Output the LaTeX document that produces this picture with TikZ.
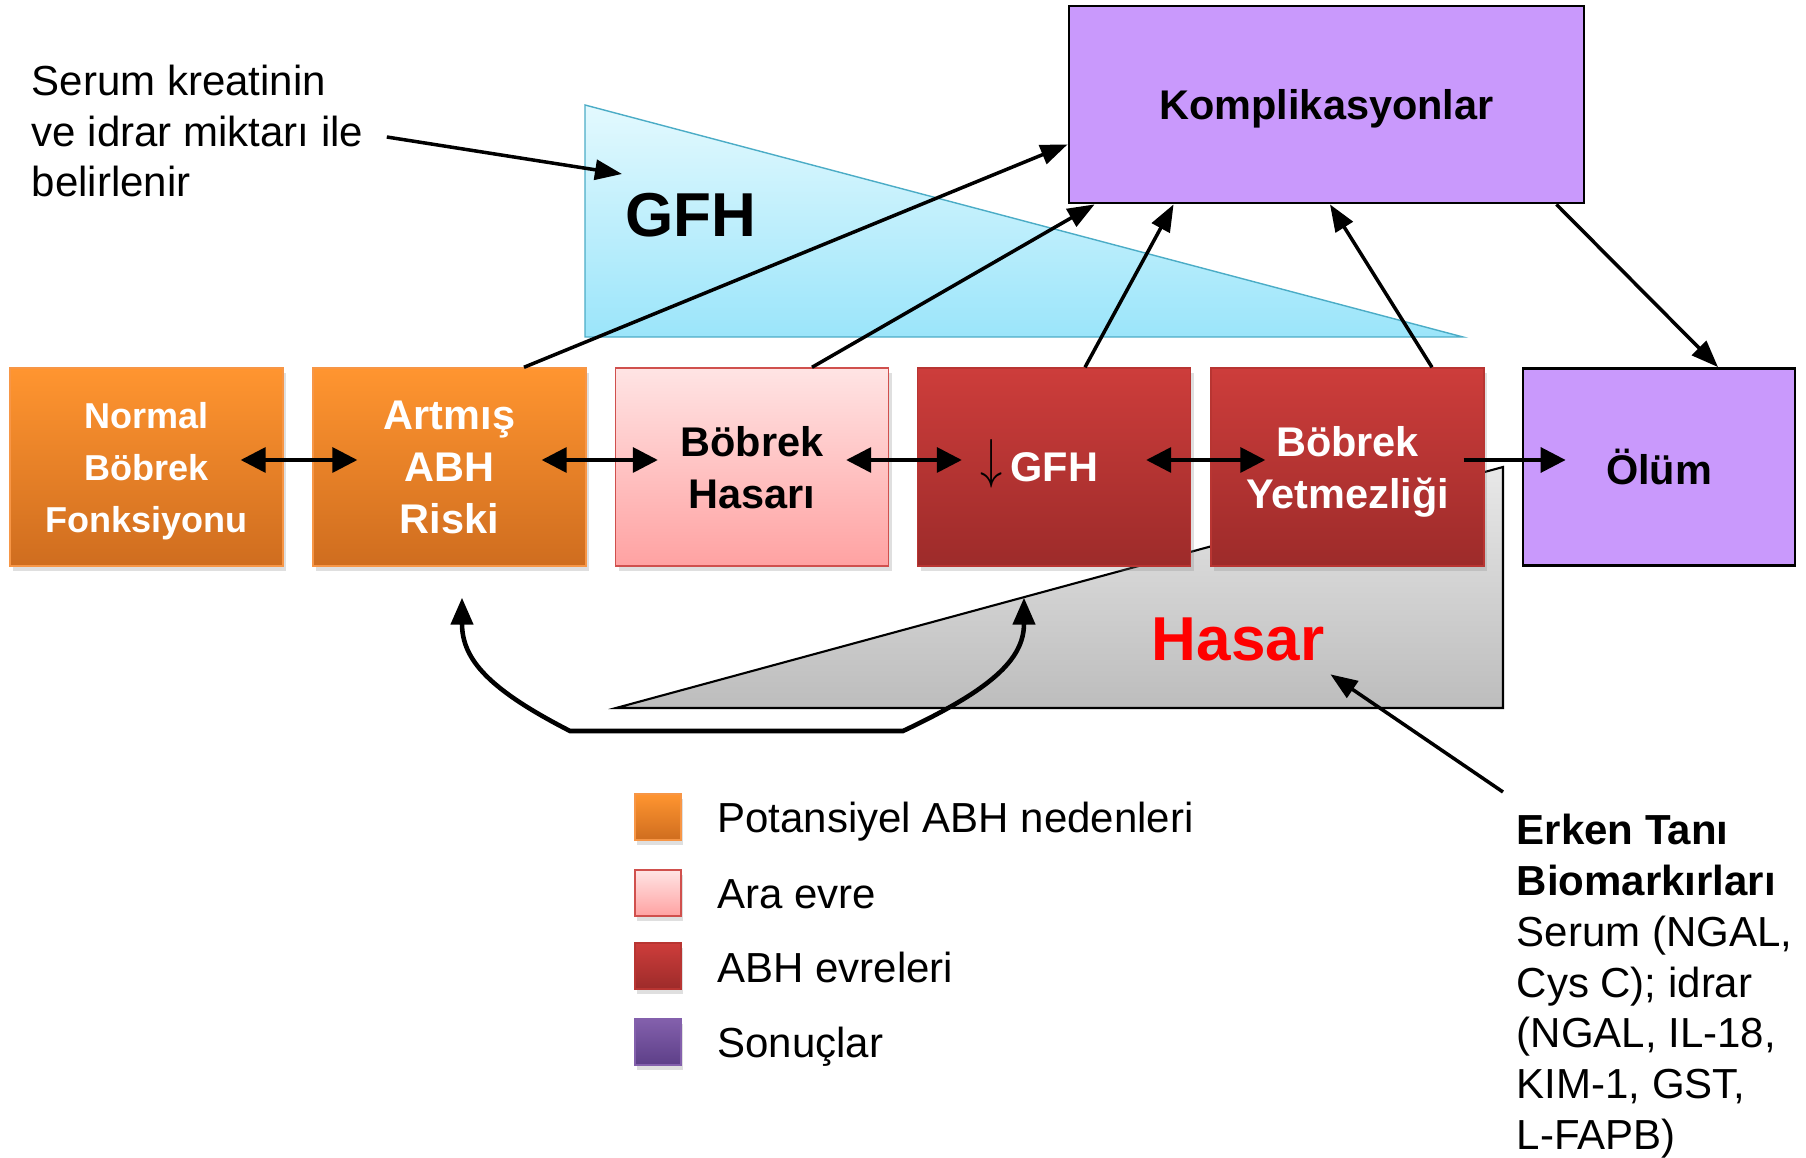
\documentclass[tikz,border=0pt]{standalone}
\usepackage{fontspec}
\setmainfont{Liberation Sans}
\usepackage{tikz}
\usetikzlibrary{arrows.meta}
\usetikzlibrary{shadows}

\definecolor{orTop}{HTML}{FF9530}
\definecolor{orBot}{HTML}{CF6D1F}
\definecolor{orLine}{HTML}{F79646}
\definecolor{pkTop}{HTML}{FFE4E4}
\definecolor{pkBot}{HTML}{FFA2A2}
\definecolor{pkLine}{HTML}{D0504D}
\definecolor{rdTop}{HTML}{CD3D3B}
\definecolor{rdBot}{HTML}{9D2B2A}
\definecolor{rdLine}{HTML}{B83532}
\definecolor{lilac}{HTML}{C999FC}
\definecolor{puTop}{HTML}{8360AC}
\definecolor{puBot}{HTML}{5D3F88}
\definecolor{gfhTop}{HTML}{E3F9FE}
\definecolor{gfhBot}{HTML}{9BE5FA}
\definecolor{gfhLine}{HTML}{4BACC6}

\newcommand{\stagefont}{\fontsize{11.8}{14.8}\selectfont\bfseries}
\newcommand{\stagesmallfont}{\fontsize{10.25}{14.8}\selectfont\bfseries}
\newcommand{\notefont}{\fontsize{11.95}{14.5}\selectfont}
\newcommand{\tagfont}{\fontsize{17.65}{20}\selectfont\bfseries}
\newcommand{\gfhdown}{\smash{\raisebox{0.1em}{\scalebox{1.05}[1.3]{\textcolor{black}{$\downarrow$}}}}}

\begin{document}
\begin{tikzpicture}
        \tikzset{stage/.style = {rectangle, minimum width=2.73cm, minimum height=1.98cm, inner sep=0pt, align=center, font=\stagefont,
                text depth=0pt, drop shadow={opacity=0.25, shadow xshift=0.03cm, shadow yshift=-0.05cm}}}
        \tikzset{cause/.style = {top color=orTop, bottom color=orBot, draw=orLine, text=white}}
        \tikzset{middle/.style = {top color=pkTop, bottom color=pkBot, draw=pkLine}}
        \tikzset{injury/.style = {top color=rdTop, bottom color=rdBot, draw=rdLine, text=white}}
        \tikzset{result/.style = {rectangle, fill=lilac, draw=black, line width=0.8pt, inner sep=0pt, text depth=0pt, font=\stagefont}}
        \tikzset{legbox/.style = {rectangle, minimum size=0.46cm, inner sep=0pt,
                drop shadow={opacity=0.25, shadow xshift=0.02cm, shadow yshift=-0.05cm}}}
        \tikzset{legtext/.style = {anchor=base west, inner sep=0pt, font=\notefont}}
        \tikzset{edge/.style = {-{Triangle[length=0.27cm,width=0.2cm]}, line width=1pt}}
        \tikzset{biedge/.style = {{Triangle[length=0.25cm,width=0.25cm]}-{Triangle[length=0.25cm,width=0.25cm]}, line width=1pt}}

        \useasboundingbox (0,0) rectangle (18.06,-11.58);

        \shade[top color=gfhTop, bottom color=gfhBot, draw=gfhLine, line width=0.4pt] (5.85,-1.05) -- (5.85,-3.37) -- (14.63,-3.37) -- cycle;
        \shade[top color=black!9, bottom color=black!26, draw=black, line width=0.6pt] (6.16,-7.08) -- (15.03,-7.08) -- (15.03,-4.67) -- cycle;

        \node[inner sep=0pt, font=\tagfont] (gfh) at (6.91,-2.15) {GFH};
        \node[inner sep=0pt, font=\tagfont, text=red] (hasar) at (12.38,-6.39) {Hasar};
        \coordinate (gfhpt) at (6.22,-1.74);

        \node[stage, cause, font=\stagesmallfont] (n1) at (1.465,-4.67) {Normal\\Böbrek\\Fonksiyonu};
        \node[stage, cause] (n2) at (4.495,-4.67) {Artmış\\ABH\\Riski};
        \node[stage, middle] (n3) at (7.52,-4.67) {Böbrek\\Hasarı};
        \node[stage, injury] (n4) at (10.54,-4.67) {\gfhdown\kern0.2em GFH\kern0.72em};
        \node[stage, injury] (n5) at (13.475,-4.67) {Böbrek\\Yetmezliği};
        \node[result, minimum width=2.72cm, minimum height=1.97cm] (olum) at (16.59,-4.67) {Ölüm};
        \node[result, minimum width=5.15cm, minimum height=1.97cm] (komp) at (13.265,-1.045) {Komplikasyonlar};

        \node[anchor=west, inner sep=0pt, align=left, font=\notefont] (serum) at (0.31,-1.31) {Serum kreatinin\\ve idrar miktarı ile\\belirlenir};
        \node[anchor=north west, inner sep=0pt, align=left, font=\notefont] (erken) at (15.16,-8.13)
                {\textbf{Erken Tanı}\\\textbf{Biomarkırları}\\Serum (NGAL,\\Cys C); idrar\\(NGAL, IL-18,\\KIM-1, GST,\\L-FAPB)};

        \draw[biedge] ([xshift=-0.43cm,yshift=0.07cm]n1.east) -- ([xshift=0.45cm,yshift=0.07cm]n2.west);
        \draw[biedge] ([xshift=-0.45cm,yshift=0.07cm]n2.east) -- ([xshift=0.43cm,yshift=0.07cm]n3.west);
        \draw[biedge] ([xshift=-0.43cm,yshift=0.07cm]n3.east) -- ([xshift=0.45cm,yshift=0.07cm]n4.west);
        \draw[biedge] ([xshift=-0.45cm,yshift=0.07cm]n4.east) -- ([xshift=0.55cm,yshift=0.07cm]n5.west);
        \draw[biedge, {-Triangle[length=0.25cm,width=0.25cm]}] ([xshift=-0.21cm,yshift=0.07cm]n5.east) -- ([xshift=0.44cm,yshift=0.07cm]olum.west);

        \draw[edge] ([xshift=0.745cm]n2.north) -- ([yshift=0.6cm]komp.south west);
        \draw[edge] ([xshift=0.6cm]n3.north) -- ([xshift=0.27cm]komp.south west);
        \draw[edge] ([xshift=0.31cm]n4.north) -- ([xshift=1.06cm]komp.south west);
        \draw[edge] ([xshift=0.845cm]n5.north) -- ([xshift=0.035cm]komp.south);
        \draw[edge] ([xshift=-0.29cm]komp.south east) -- ([xshift=0.59cm]olum.north);

        \draw[edge] ([xshift=0.23cm,yshift=-0.06cm]serum.east) -- (gfhpt);
        \draw[edge] ([xshift=-0.13cm,yshift=0.21cm]erken.north west) -- ([xshift=0.055cm,yshift=-0.13cm]hasar.south east);

        \draw[edge, {Triangle[length=0.27cm,width=0.22cm]}-{Triangle[length=0.27cm,width=0.22cm]}, line width=1.3pt]
                ([xshift=0.125cm,yshift=-0.31cm]n2.south) .. controls (4.62,-6.6) and (4.9,-6.9) .. (5.70,-7.31)
                -- (9.03,-7.31) .. controls (9.9,-6.9) and (10.24,-6.6) .. ([xshift=-0.3cm,yshift=-0.31cm]n4.south);

        \node[legbox, cause] (k1) at (6.58,-8.17) {};
        \node[legbox, middle] (k2) at (6.58,-8.93) {};
        \node[legbox, injury] (k3) at (6.58,-9.66) {};
        \node[legbox, top color=puTop, bottom color=puBot, draw=puTop] (k4) at (6.58,-10.42) {};

        \node[legtext] (t1) at ([xshift=0.35cm,yshift=-0.16cm]k1.east) {Potansiyel ABH nedenleri};
        \node[legtext] (t2) at ([xshift=0.35cm,yshift=-0.16cm]k2.east) {Ara evre};
        \node[legtext] (t3) at ([xshift=0.35cm,yshift=-0.16cm]k3.east) {ABH evreleri};
        \node[legtext] (t4) at ([xshift=0.35cm,yshift=-0.16cm]k4.east) {Sonuçlar};
\end{tikzpicture}
\end{document}
